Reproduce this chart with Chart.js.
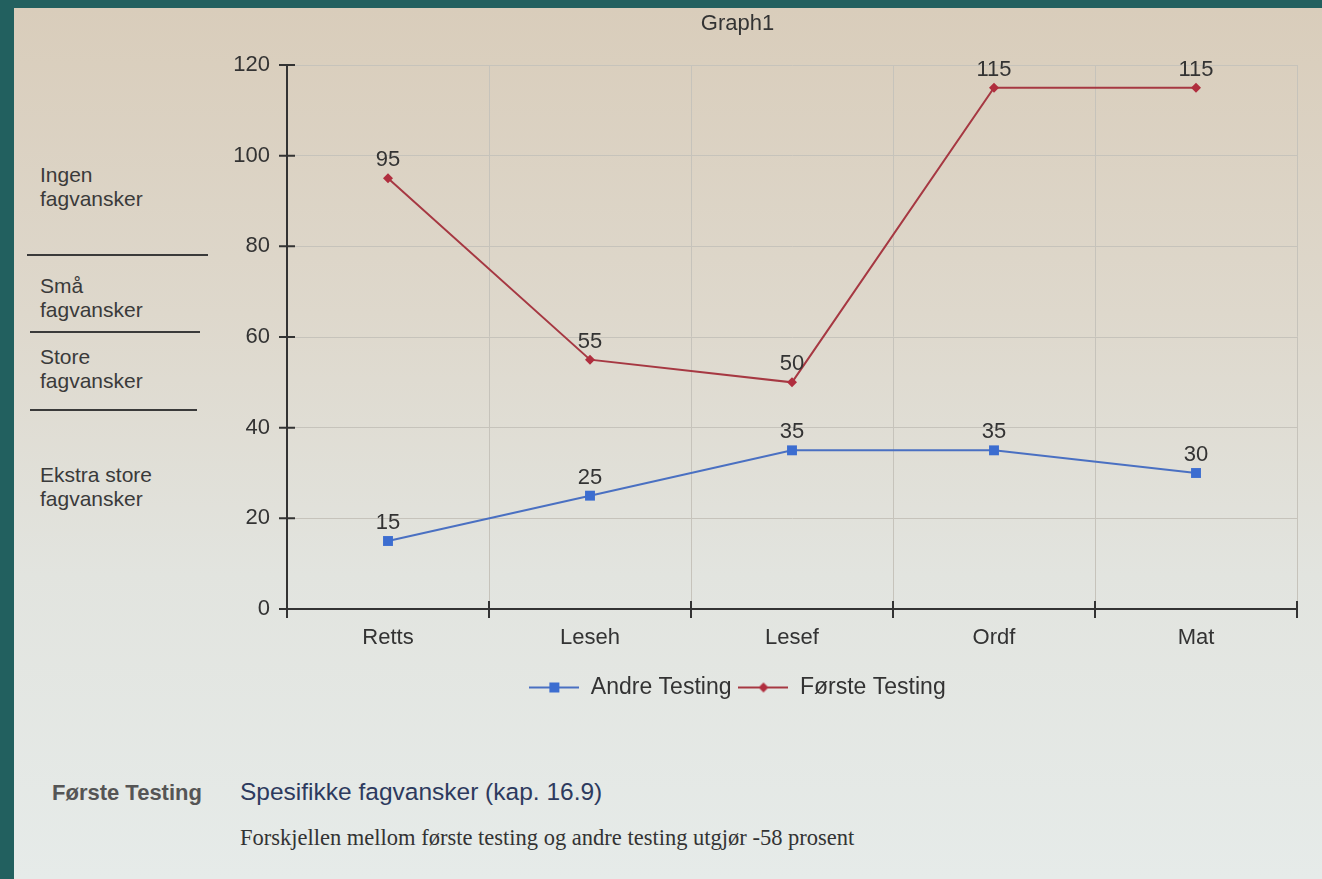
<!DOCTYPE html>
<html>
<head>
<meta charset="utf-8">
<script src="https://cdn.jsdelivr.net/npm/chart.js@4"></script>
<style>
  html, body { margin: 0; padding: 0; }
  body {
    width: 1322px; height: 879px; overflow: hidden;
    background: #22605f;
    position: relative;
  }
  #paper {
    position: absolute; left: 14px; top: 8px; right: 0; bottom: 0;
    background: linear-gradient(to bottom, #d9cdbb 0%, #ded8cc 35%, #e2e4df 65%, #e6ebe9 100%);
  }
  #chartBox {
    position: absolute; left: 178px; top: 0; width: 1132px; height: 720px;
  }
  .side {
    position: absolute; left: 40px;
    font-family: "Liberation Sans", Arial, sans-serif;
    font-size: 21px; line-height: 24px; color: #3a3a3a;
  }
  .sep {
    position: absolute; height: 2px; background: #3a3a3a;
  }
  .note {
    position: absolute; white-space: nowrap;
  }
</style>
</head>
<body>
<div id="paper"></div>

<div class="side" style="top:163px">Ingen<br>fagvansker</div>
<div class="sep" style="left:27px; width:181px; top:254px"></div>
<div class="side" style="top:274px">Små<br>fagvansker</div>
<div class="sep" style="left:30px; width:170px; top:331px"></div>
<div class="side" style="top:345px">Store<br>fagvansker</div>
<div class="sep" style="left:30px; width:167px; top:409px"></div>
<div class="side" style="top:463px">Ekstra store<br>fagvansker</div>

<div class="note" style="left:52px; top:780px; font-family:'Liberation Sans',Arial,sans-serif; font-weight:bold; font-size:22px; color:#555;">Første Testing</div>
<div class="note" style="left:240px; top:778px; font-family:'Liberation Sans',Arial,sans-serif; font-size:24.5px; color:#2d3a5e;">Spesifikke fagvansker (kap. 16.9)</div>
<div class="note" style="left:240px; top:825px; font-family:'Liberation Serif','Times New Roman',serif; font-size:22.5px; color:#333;">Forskjellen mellom første testing og andre testing utgjør -58 prosent</div>

<div id="chartBox"><canvas id="myChart"></canvas></div>

<script>
const categories = ['Retts', 'Leseh', 'Lesef', 'Ordf', 'Mat'];
const andreTesting = [15, 25, 35, 35, 30];
const forsteTesting = [95, 55, 50, 115, 115];
const yTicks = [0, 20, 40, 60, 80, 100, 120];

const blue = '#4a70c2';
const blueMark = '#3c6dd0';
const red = '#a63842';
const redMark = '#b02e3e';
const ink = '#333333';
const font = '"Liberation Sans", Arial, sans-serif';

// small picture for the legend: line with marker in the middle
function legendIcon(lineColor, markColor, diamond) {
  var c = document.createElement('canvas');
  c.width = 50; c.height = 14;
  var g = c.getContext('2d');
  g.strokeStyle = lineColor;
  g.lineWidth = 2;
  g.beginPath(); g.moveTo(0, 7); g.lineTo(50, 7); g.stroke();
  g.fillStyle = markColor;
  if (diamond) {
    g.beginPath();
    g.moveTo(25, 2); g.lineTo(30, 7); g.lineTo(25, 12); g.lineTo(20, 7);
    g.closePath(); g.fill();
  } else {
    g.fillRect(20, 2, 10, 10);
  }
  return c;
}
var iconBlue = legendIcon(blue, blueMark, false);
var iconRed = legendIcon(red, redMark, true);

// value labels above the points
var valueLabels = {
  id: 'valueLabels',
  afterDatasetsDraw: function (chart) {
    var ctx = chart.ctx;
    ctx.save();
    ctx.font = '22px ' + font;
    ctx.fillStyle = ink;
    ctx.textAlign = 'center';
    ctx.textBaseline = 'middle';
    chart.data.datasets.forEach(function (ds, i) {
      chart.getDatasetMeta(i).data.forEach(function (pt, j) {
        ctx.fillText(ds.data[j], pt.x, pt.y - 18);
      });
    });
    ctx.restore();
  }
};

// tick marks that cross the axis lines
var crossTicks = {
  id: 'crossTicks',
  afterDraw: function (chart) {
    var ctx = chart.ctx;
    var xs = chart.scales.x, ys = chart.scales.y;
    var left = chart.chartArea.left, bottom = chart.chartArea.bottom;
    ctx.save();
    ctx.strokeStyle = ink;
    ctx.lineWidth = 2;
    ctx.beginPath();
    ys.ticks.forEach(function (t) {
      var y = ys.getPixelForValue(t.value);
      ctx.moveTo(left - 8, y); ctx.lineTo(left + 8, y);
    });
    var half = (xs.getPixelForValue(1) - xs.getPixelForValue(0)) / 2;
    for (var i = 0; i <= categories.length; i++) {
      var x = xs.getPixelForValue(i) - half;
      ctx.moveTo(x, bottom - 8); ctx.lineTo(x, bottom + 9);
    }
    ctx.stroke();
    ctx.restore();
  }
};

var data = {
  labels: categories,
  datasets: [{
    label: 'Andre Testing',
    data: andreTesting,
    borderColor: blue,
    backgroundColor: blueMark,
    borderWidth: 2,
    pointStyle: 'rect',
    pointRadius: 7,
    pointBorderWidth: 0,
    tension: 0
  }, {
    label: 'Første Testing',
    data: forsteTesting,
    borderColor: red,
    backgroundColor: redMark,
    borderWidth: 2,
    pointStyle: 'rectRot',
    pointRadius: 5,
    pointBorderWidth: 0,
    tension: 0
  }]
};

var config = {
  type: 'line',
  data: data,
  options: {
    responsive: true,
    maintainAspectRatio: false,
    animation: false,
    layout: { padding: { right: 13, bottom: 11 } },
    plugins: {
      title: {
        display: true,
        text: 'Graph1',
        color: ink,
        font: { family: font, size: 22, weight: 'normal' },
        padding: { top: 10.8, bottom: 27.8 }
      },
      legend: {
        position: 'bottom',
        labels: {
          usePointStyle: true,
          pointStyleWidth: 50,
          padding: 7,
          color: ink,
          font: { family: font, size: 23 },
          generateLabels: function (chart) {
            return chart.data.datasets.map(function (ds, i) {
              return {
                text: ds.label,
                pointStyle: i === 0 ? iconBlue : iconRed,
                fillStyle: ds.backgroundColor,
                strokeStyle: ds.borderColor,
                lineWidth: 0,
                fontColor: ink,
                datasetIndex: i
              };
            });
          }
        }
      },
      tooltip: { enabled: false }
    },
    scales: {
      x: {
        type: 'category',
        offset: true,
        grid: { offset: true, color: '#c6c3bb', lineWidth: 1, drawTicks: false },
        border: { color: ink, width: 2 },
        ticks: { color: ink, padding: 16, font: { family: font, size: 22 } },
        afterFit: function (s) { s.height = 60; }
      },
      y: {
        min: 0,
        max: 120,
        afterBuildTicks: function (s) {
          s.ticks = yTicks.map(function (v) { return { value: v }; });
        },
        grid: { color: '#c6c3bb', lineWidth: 1, drawTicks: false },
        border: { color: ink, width: 2 },
        ticks: { color: ink, padding: 17, font: { family: font, size: 22 } },
        afterFit: function (s) { s.width = 109; }
      }
    }
  },
  plugins: [valueLabels, crossTicks]
};

var myChart = new Chart(document.getElementById('myChart'), config);
</script>
</body>
</html>
